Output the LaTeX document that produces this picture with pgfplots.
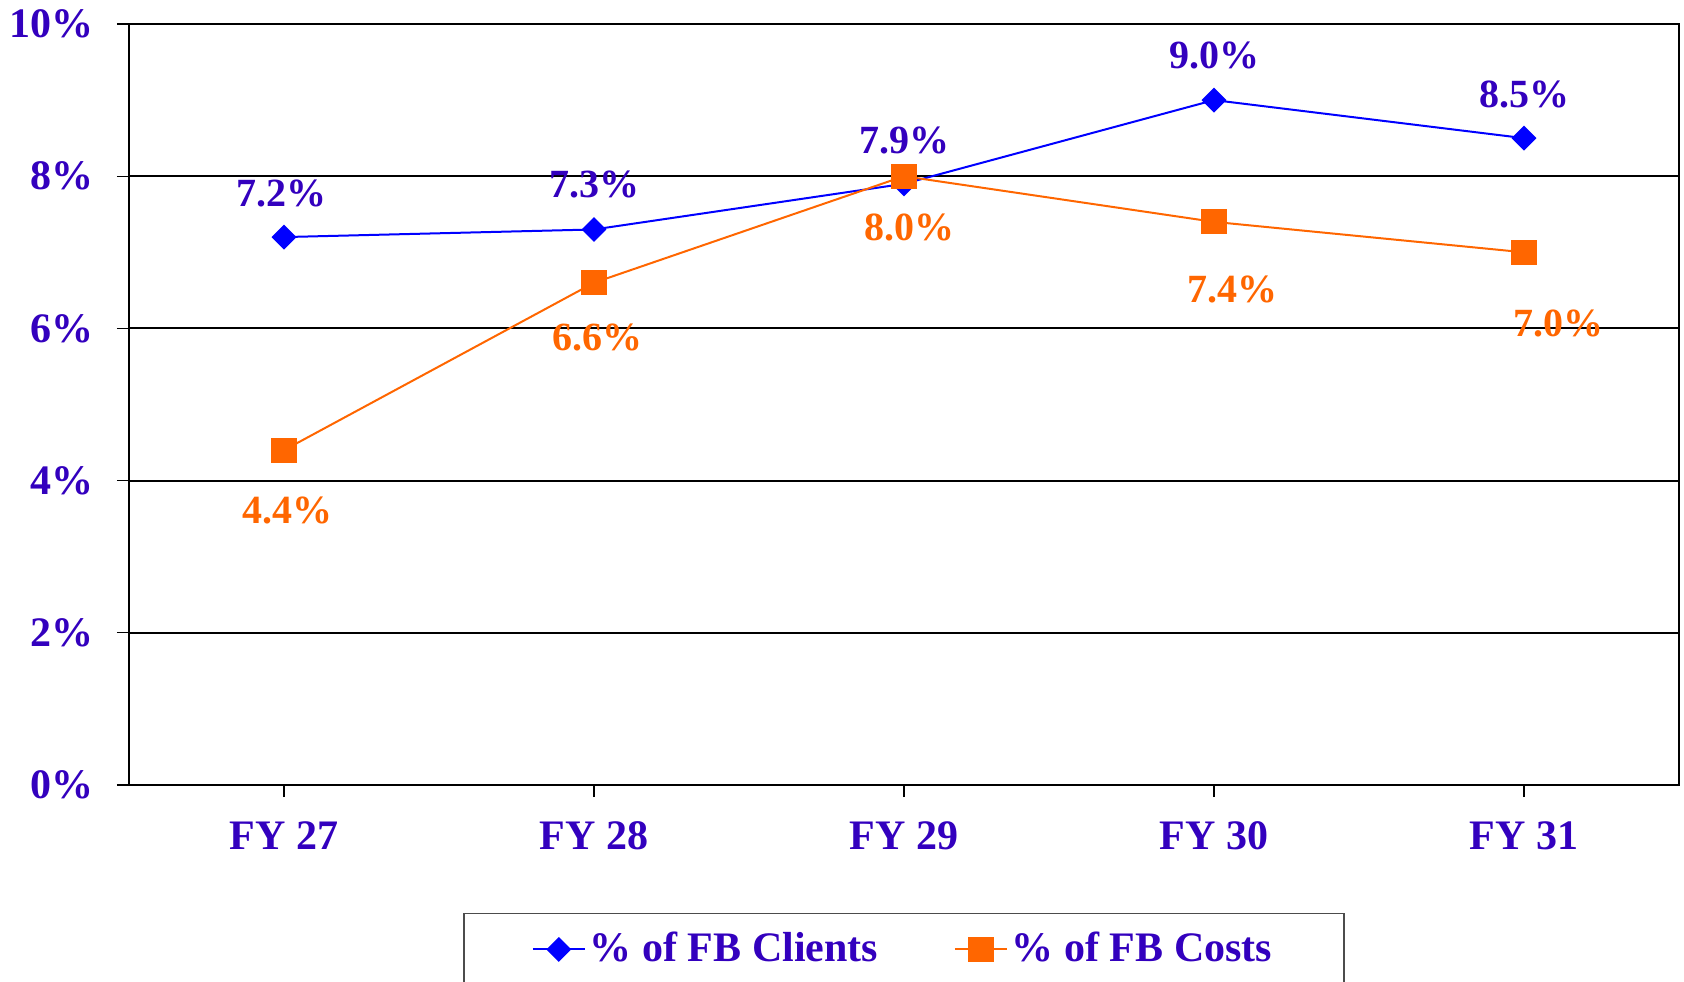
\documentclass[border=0pt]{standalone}
\usepackage{pgfplots}
\pgfplotsset{compat=1.18}
\usepackage{fontspec}
\setmainfont{Liberation Serif}
\definecolor{lbl}{RGB}{51,0,190}
\definecolor{clblue}{RGB}{0,0,255}
\definecolor{clorange}{RGB}{255,102,0}
\begin{document}
\fontsize{20}{24}\selectfont\bfseries
\begin{tikzpicture}
\useasboundingbox (-64.5pt,-98pt) rectangle (777.5pt,392.5pt);
\begin{axis}[scale only axis, width=775pt, height=380.5pt,
  xmin=-0.5, xmax=4.5, ymin=0, ymax=10,
  xtick={0,1,2,3,4}, xticklabels={FY 27,FY 28,FY 29,FY 30,FY 31},
  ytick={0,2,4,6,8,10}, yticklabels={0\%,2\%,4\%,6\%,8\%,10\%},
  xtick pos=bottom, ytick pos=left,
  tick align=outside, major tick length=6pt,
  tick style={black, line width=0.6pt},
  axis line style={line width=1pt},
  ymajorgrids, grid style={black, line width=1pt},
  x tick label style={font=\fontsize{21}{24}\selectfont\bfseries, text=lbl, yshift=-5.5pt},
  y tick label style={font=\fontsize{21}{24}\selectfont\bfseries, text=lbl, xshift=-5pt},
  legend style={draw=black!70, line width=0.8pt, at={(0.5,-0.168)}, anchor=north,
    legend columns=2, inner xsep=34pt, inner ysep=7pt,
    font=\fontsize{21}{24}\selectfont\bfseries, text=lbl,
    /tikz/every even column/.append style={column sep=36pt}},
  legend image code/.code={\draw[mark repeat=2, mark phase=2, #1] plot coordinates {(0pt,0pt) (13pt,0pt) (26pt,0pt)};},
  clip=false]
\addplot[clblue, line width=1pt, mark=square*, mark size=3.9pt, mark options={rotate=45, fill=clblue}]
  coordinates {(0,7.2) (1,7.3) (2,7.9) (3,9.0) (4,8.5)};
\addlegendentry{\% of FB Clients}
\addplot[clorange, line width=1pt, mark=square*, mark size=5.8pt, mark options={fill=clorange}]
  coordinates {(0,4.4) (1,6.6) (2,8.0) (3,7.4) (4,7.0)};
\addlegendentry{\% of FB Costs}
% value labels
\node[text=lbl] at (axis cs:0,7.2) [yshift=22pt, xshift=-1pt] {7.2\%};
\node[text=lbl] at (axis cs:1,7.3) [yshift=22.5pt] {7.3\%};
\node[text=lbl] at (axis cs:2,7.9) [yshift=21.5pt] {7.9\%};
\node[text=lbl] at (axis cs:3,9.0) [yshift=22.5pt] {9.0\%};
\node[text=lbl] at (axis cs:4,8.5) [yshift=22pt] {8.5\%};
\node[text=clorange] at (axis cs:0,4.4) [yshift=-30pt, xshift=1.6pt] {4.4\%};
\node[text=clorange] at (axis cs:1,6.6) [yshift=-27.4pt, xshift=1.6pt] {6.6\%};
\node[text=clorange] at (axis cs:2,8.0) [yshift=-25.8pt, xshift=2.7pt] {8.0\%};
\node[text=clorange] at (axis cs:3,7.4) [yshift=-33.8pt, xshift=9pt] {7.4\%};
\node[text=clorange] at (axis cs:4,7.0) [yshift=-35.4pt, xshift=17pt] {7.0\%};
\end{axis}
\end{tikzpicture}
\end{document}
